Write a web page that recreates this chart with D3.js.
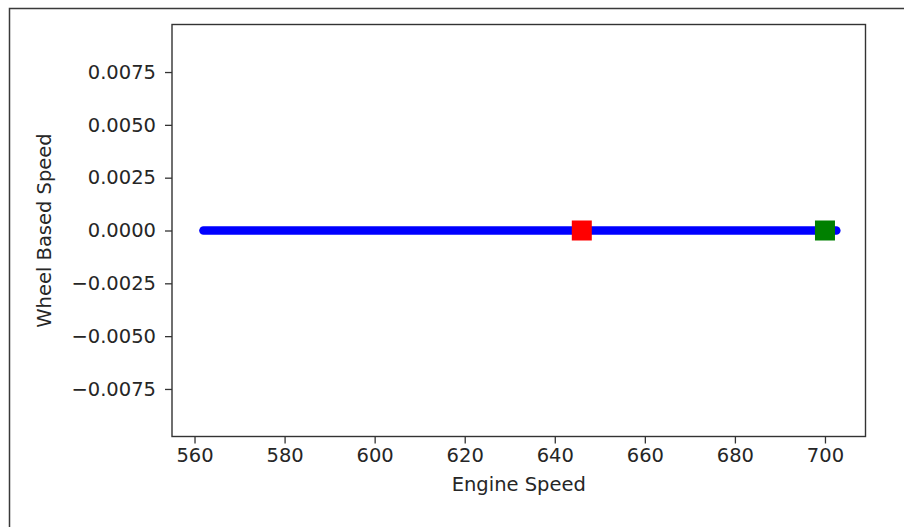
<!DOCTYPE html>
<html>
<head>
<meta charset="utf-8">
<script src="https://cdn.jsdelivr.net/npm/d3@7"></script>
<style>
  html, body { margin: 0; padding: 0; background: #fff; }
  svg text { font-family: "DejaVu Sans", sans-serif; fill: #262626; }
</style>
</head>
<body>
<div id="chart"></div>
<script>
// data
const engineSpeed = [562, 702.5];
const wheelSpeed  = [0, 0];
const redPoint    = [646, 0];
const greenPoint  = [700, 0];
const xTicks = [560, 580, 600, 620, 640, 660, 680, 700];
const yTicks = [-0.0075, -0.005, -0.0025, 0, 0.0025, 0.005, 0.0075];

const width = 904, height = 527;
const plot = { left: 172, top: 24.5, right: 865.5, bottom: 436.5 };
const fontSize = "19.5px";

const svg = d3.select("#chart").append("svg")
  .attr("width", width)
  .attr("height", height);

// outer frame (only top and left visible in the picture)
svg.append("rect")
  .attr("x", 9.5).attr("y", 8.5)
  .attr("width", 1000).attr("height", 1000)
  .attr("fill", "none")
  .attr("stroke", "#3a3a3a")
  .attr("stroke-width", 1.5);

const x = d3.scaleLinear().domain([555, 709]).range([plot.left, plot.right]);
const y = d3.scaleLinear().domain([-0.00975, 0.00975]).range([plot.bottom, plot.top]);

// blue line
const line = d3.line().x(d => x(d[0])).y(d => y(d[1]));
svg.append("path")
  .datum(engineSpeed.map((v, i) => [v, wheelSpeed[i]]))
  .attr("d", line)
  .attr("fill", "none")
  .attr("stroke", "#0000ff")
  .attr("stroke-width", 8.7)
  .attr("stroke-linecap", "round");

// square markers
const markers = [
  { p: redPoint, color: "#ff0000" },
  { p: greenPoint, color: "#008000" }
];
const ms = 20;
svg.selectAll(".marker").data(markers).enter().append("rect")
  .attr("class", "marker")
  .attr("x", d => x(d.p[0]) - ms / 2)
  .attr("y", d => y(d.p[1]) - ms / 2)
  .attr("width", ms).attr("height", ms)
  .attr("fill", d => d.color);

// axes
const xAxis = d3.axisBottom(x).tickValues(xTicks).tickSize(7).tickPadding(5)
  .tickFormat(d3.format("d"));
const yAxis = d3.axisLeft(y).tickValues(yTicks).tickSize(7).tickPadding(9)
  .tickFormat(d => d3.format(".4f")(d).replace("-", "\u2212"));

const gx = svg.append("g")
  .attr("transform", `translate(0,${plot.bottom})`)
  .call(xAxis);
const gy = svg.append("g")
  .attr("transform", `translate(${plot.left},0)`)
  .call(yAxis);

[gx, gy].forEach(g => {
  g.select(".domain").remove();
  g.selectAll(".tick line").attr("stroke", "#333").attr("stroke-width", 1.3);
  g.selectAll(".tick text").style("font-size", fontSize).attr("fill", "#262626");
});

// plot frame
svg.append("rect")
  .attr("x", plot.left).attr("y", plot.top)
  .attr("width", plot.right - plot.left)
  .attr("height", plot.bottom - plot.top)
  .attr("fill", "none")
  .attr("stroke", "#333")
  .attr("stroke-width", 1.4);

// axis labels
svg.append("text")
  .attr("x", (plot.left + plot.right) / 2)
  .attr("y", 491)
  .attr("text-anchor", "middle")
  .style("font-size", fontSize)
  .text("Engine Speed");

svg.append("text")
  .attr("transform", `translate(51,${(plot.top + plot.bottom) / 2}) rotate(-90)`)
  .attr("text-anchor", "middle")
  .style("font-size", fontSize)
  .text("Wheel Based Speed");
</script>
</body>
</html>
